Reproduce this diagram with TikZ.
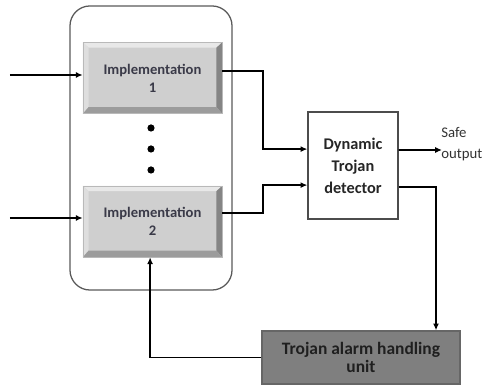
\documentclass[tikz,border=0pt]{standalone}
\usepackage{fontspec}
\setmainfont{Carlito}
\usepackage{tikz}
\usetikzlibrary{arrows.meta}

\definecolor{implface}{HTML}{CFCFCF}
\definecolor{bevtop}{HTML}{E8E8E8}
\definecolor{bevleft}{HTML}{DEDEDE}
\definecolor{bevright}{HTML}{858585}
\definecolor{bevbot}{HTML}{9C9C9C}
\definecolor{impltext}{HTML}{3A3A48}
\definecolor{alarmfill}{HTML}{7F7F7F}

\tikzset{
  impl/.style={draw=gray!55, fill=implface, minimum width=3.475cm, minimum height=1.775cm,
    inner sep=0pt, align=center, text=impltext, font=\bfseries\fontsize{10.4}{12.8}\selectfont,
    path picture={
      \coordinate (nw) at (path picture bounding box.north west);
      \coordinate (ne) at (path picture bounding box.north east);
      \coordinate (sw) at (path picture bounding box.south west);
      \coordinate (se) at (path picture bounding box.south east);
      \fill[bevtop] (nw) -- (ne) -- ([xshift=-0.14cm,yshift=-0.13cm]ne) -- ([xshift=0.14cm,yshift=-0.13cm]nw) -- cycle;
      \fill[bevleft] (nw) -- ([xshift=0.14cm,yshift=-0.13cm]nw) -- ([xshift=0.14cm,yshift=0.16cm]sw) -- (sw) -- cycle;
      \fill[bevright] (ne) -- (se) -- ([xshift=-0.14cm,yshift=0.16cm]se) -- ([xshift=-0.14cm,yshift=-0.13cm]ne) -- cycle;
      \fill[bevbot] (sw) -- (se) -- ([xshift=-0.14cm,yshift=0.16cm]se) -- ([xshift=0.14cm,yshift=0.16cm]sw) -- cycle;
    }},
  wire/.style={line width=1.3pt, -{Latex[length=0.17cm,width=0.15cm]}},
  dot/.style={circle, fill=black, inner sep=0pt, minimum size=0.18cm}
}

\begin{document}
\begin{tikzpicture}[x=0.025cm,y=-0.025cm]
                        \useasboundingbox (0,0) rectangle (483,386);
                        % Nodes
                        \node[draw=black!65, line width=0.9pt, rounded corners=0.5cm, minimum width=4.05cm, minimum height=7.1cm] (group) at (151,148) {};
                        \node[impl] (impl1) at (152.5,78) {Implementation\\1};
                        \node[impl] (impl2) at (152.5,221.5) {Implementation\\2};
                        \node[dot] (dot1) at (151,128) {};
                        \node[dot] (dot2) at (151,149) {};
                        \node[dot] (dot3) at (151,170) {};
                        \node[draw=black!70, line width=0.9pt, fill=white, minimum width=2.25cm, minimum height=2.675cm, align=center,
                              text=black!85, font=\bfseries\fontsize{11.6}{15.6}\selectfont] (det) at (353,165.5) {Dynamic\\Trojan\\detector};
                        \node[draw=black!60, line width=0.9pt, fill=alarmfill, minimum width=4.95cm, minimum height=1.325cm, align=center,
                              inner sep=0pt, text=black!88, font=\bfseries\fontsize{12.4}{12.9}\selectfont] (alarm) at (361,357.5) {Trojan alarm handling\\unit};
                        \node[anchor=west, align=left, inner sep=0pt, text=black!80, font=\fontsize{10.5}{15.4}\selectfont] (safe) at (441,144) {Safe\\output};
                        \coordinate (in1) at (10,75);
                        \coordinate (in2) at (10,218);
                        \coordinate (out) at (442,150);

                        % Edges
                        \draw[wire] (in1) -- (in1 -| impl1.west);
                        \draw[wire] (in2) -- (in2 -| impl2.west);
                        \draw[wire] ([yshift=0.175cm]impl1.east) -- ++(41,0) |- ([yshift=0.41cm]det.west);
                        \draw[wire] ([yshift=0.21cm]impl2.east) -- ++(41,0) |- ([yshift=-0.49cm]det.west);
                        \draw[wire] ([yshift=0.3875cm]det.east) -- (out);
                        \draw[wire] ([yshift=-0.5375cm]det.east) -| ([xshift=1.875cm]alarm.north);
                        \draw[wire] (alarm.west) -| ([xshift=-0.06cm]impl2.south);
                    \end{tikzpicture}
\end{document}
